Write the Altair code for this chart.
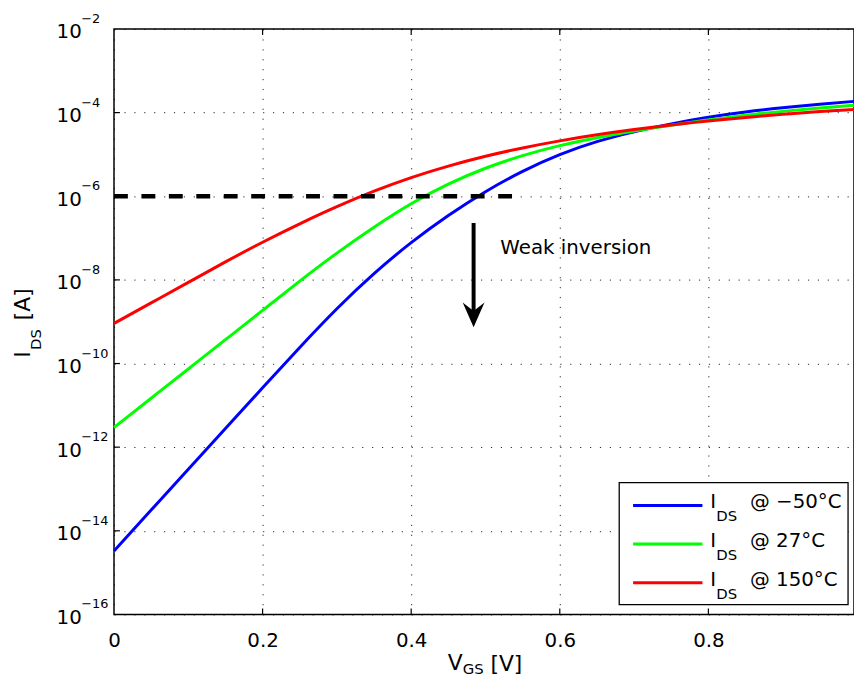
import altair as alt
import pandas as pd

FONT = "DejaVu Sans"

# ---- data (log10 of I_DS in A) ----
vgs = [0, 0.05, 0.1, 0.15, 0.2, 0.25, 0.3, 0.35, 0.4, 0.45, 0.5, 0.55,
       0.6, 0.65, 0.7, 0.75, 0.8, 0.85, 0.9, 0.95, 0.996]
log_ids_m50 = [-14.48, -13.505, -12.53, -11.555, -10.58, -9.615, -8.69, -7.85,
               -7.11, -6.46, -5.89, -5.405, -5.005, -4.695, -4.46, -4.27,
               -4.11, -3.985, -3.885, -3.80, -3.731]
log_ids_27 = [-11.53, -10.83, -10.13, -9.43, -8.73, -8.03, -7.36, -6.74,
              -6.18, -5.71, -5.33, -5.03, -4.79, -4.60, -4.44, -4.30,
              -4.175, -4.065, -3.97, -3.89, -3.826]
log_ids_150 = [-9.04, -8.55, -8.06, -7.57, -7.10, -6.66, -6.25, -5.88,
               -5.555, -5.28, -5.045, -4.845, -4.675, -4.53, -4.405, -4.295,
               -4.20, -4.115, -4.04, -3.975, -3.924]

series_labels = ["@ \u221250\u00b0C", "@ 27\u00b0C", "@ 150\u00b0C"]
series_colors = ["#0000ff", "#00ff00", "#ff0000"]

x_ticks = [0, 0.2, 0.4, 0.6, 0.8]
y_exponents = [-16, -14, -12, -10, -8, -6, -4, -2]

threshold = 1e-6
dash_x = [0, 0.537]
arrow_x = 0.484
arrow_top_log = -6.64
arrow_head_log = -8.835
note_x = 0.52
note_log = -7.371
note_text = "Weak inversion"

# ---- scales / axes ----
y_ticks = [10.0 ** e for e in y_exponents]
xscale = alt.Scale(domain=[0, 0.996], nice=False, zero=False)
yscale = alt.Scale(type="log", domain=[1e-16, 1e-2], nice=False)

X = alt.X("vgs:Q", scale=xscale, title=None,
          axis=alt.Axis(values=x_ticks, labelPadding=16, labelFlush=False,
                        labelExpr="datum.value == 0 ? '0' : format(datum.value, '.1f')"))
Y = alt.Y("ids:Q", scale=yscale, title=None,
          axis=alt.Axis(values=y_ticks, labelPadding=33, labelFlush=False,
                        labelOffset=3, labelExpr="'10'"))

curve_layers = []
for logs, col in zip([log_ids_m50, log_ids_27, log_ids_150], series_colors):
    df = pd.DataFrame({"vgs": vgs, "ids": [10.0 ** v for v in logs]})
    curve_layers.append(
        alt.Chart(df).mark_line(color=col, strokeWidth=3, interpolate="natural")
        .encode(x=X, y=Y)
    )

# exponent superscripts of tick labels
exp_df = pd.DataFrame({"vgs": [0] * len(y_exponents),
                       "ids": y_ticks,
                       "t": ["\u2212" + str(abs(e)) for e in y_exponents]})
exp_layer = alt.Chart(exp_df).mark_text(
    align="left", baseline="alphabetic", dx=-33, dy=-6,
    font=FONT, fontSize=13, color="black"
).encode(x=X, y=Y, text="t:N")

# inner tick marks (MATLAB style)
xt_df = pd.DataFrame({"vgs": x_ticks[1:]})
bottom_ticks = alt.Chart(xt_df).mark_rule(color="black", strokeWidth=1.2).encode(
    x=X, y=alt.value(591), y2=alt.value(585))
top_ticks = alt.Chart(xt_df).mark_rule(color="black", strokeWidth=1.2).encode(
    x=X, y=alt.value(0), y2=alt.value(6))
yt_df = pd.DataFrame({"ids": y_ticks[1:-1]})
left_ticks = alt.Chart(yt_df).mark_rule(color="black", strokeWidth=1.2).encode(
    y=Y, x=alt.value(0), x2=alt.value(6))

# dashed threshold line
dash_df = pd.DataFrame({"vgs": dash_x, "ids": [threshold] * len(dash_x)})
dash_layer = alt.Chart(dash_df).mark_line(
    color="black", strokeWidth=4.5, strokeDash=[14, 13.7]
).encode(x=X, y=Y)

# arrow
arrow_df = pd.DataFrame({"vgs": [arrow_x, arrow_x],
                         "ids": [10.0 ** arrow_top_log, 10.0 ** (arrow_head_log - 0.05)]})
arrow_shaft = alt.Chart(arrow_df).mark_line(color="black", strokeWidth=4).encode(x=X, y=Y)
head_df = pd.DataFrame({"vgs": [arrow_x], "ids": [10.0 ** arrow_head_log]})
arrow_head = alt.Chart(head_df).mark_point(
    shape="M0,1 L-0.88,-1 L0,-0.3 L0.88,-1 Z", size=625,
    filled=True, color="black", opacity=1, strokeWidth=0
).encode(x=X, y=Y)

note_df = pd.DataFrame({"vgs": [note_x], "ids": [10.0 ** note_log], "t": [note_text]})
note_layer = alt.Chart(note_df).mark_text(
    align="left", baseline="alphabetic", font=FONT, fontSize=20, color="black"
).encode(x=X, y=Y, text="t:N")

one = pd.DataFrame({"a": [0]})


def txt(s, x, y, size, angle=0):
    return alt.Chart(one).mark_text(
        text=s, align="left", baseline="alphabetic", font=FONT,
        fontSize=size, angle=angle, color="black"
    ).encode(x=alt.value(x), y=alt.value(y))


# axis titles with subscripts
title_layers = [
    txt("V", 337, 647, 22),
    txt("GS", 352, 651, 15),
    txt("[V]", 380, 648, 22),
    txt("I", -85, 332, 22, angle=270),
    txt("DS", -74, 324, 15, angle=270),
    txt("[A]", -85, 294, 22, angle=270),
]

# legend
legend_layers = [
    alt.Chart(one).mark_rect(fill="white", stroke="black", strokeWidth=1.3).encode(
        x=alt.value(510), x2=alt.value(741), y=alt.value(458), y2=alt.value(581))
]
for i, (lab, col) in enumerate(zip(series_labels, series_colors)):
    yy = 481 + 39 * i
    legend_layers.append(
        alt.Chart(one).mark_rule(color=col, strokeWidth=3).encode(
            x=alt.value(524), x2=alt.value(594), y=alt.value(yy)))
    legend_layers.append(txt("I", 602, yy + 3, 20))
    legend_layers.append(txt("DS", 608, yy + 16, 15))
    legend_layers.append(txt(lab, 642, yy + 3, 20))

chart = alt.layer(
    *curve_layers, bottom_ticks, top_ticks, left_ticks, dash_layer,
    arrow_shaft, arrow_head, note_layer, exp_layer, *title_layers, *legend_layers
).properties(
    width=747, height=591,
    padding={"left": 107, "top": 18, "right": 0, "bottom": 63},
    autosize=alt.AutoSizeParams(type="none"),
    background="white",
).configure_view(
    stroke="black", strokeWidth=1.5
).configure_axis(
    grid=True, gridColor="black", gridDash=[1.2, 8.8], gridOpacity=0.85,
    gridWidth=1, domain=False, ticks=False, tickSize=0,
    labelFont=FONT, labelFontSize=20, labelColor="black",
    labelOverlap=False, labelBound=False
)

chart.save("out.html", embed_options={"renderer": "svg", "actions": False})
